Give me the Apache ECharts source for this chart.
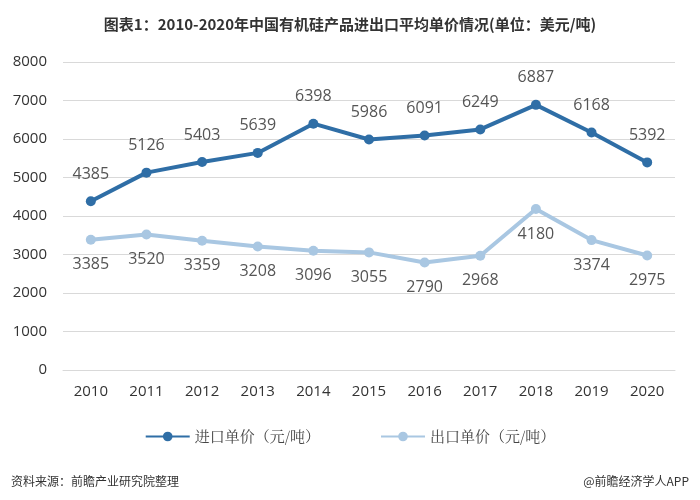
<!DOCTYPE html>
<html><head><meta charset="utf-8">
<script src="https://cdn.jsdelivr.net/npm/echarts@6/dist/echarts.min.js"></script>
<style>html,body{margin:0;padding:0;background:#fff}#c{width:700px;height:500px}</style>
</head><body><div id="c"></div>
<script>
const years = ['2010','2011','2012','2013','2014','2015','2016','2017','2018','2019','2020'];
const importPrice = [4385,5126,5403,5639,6398,5986,6091,6249,6887,6168,5392];
const exportPrice = [3385,3520,3359,3208,3096,3055,2790,2968,4180,3374,2975];
const yTicks = [0,1000,2000,3000,4000,5000,6000,7000,8000];
const font = '"Microsoft YaHei","Noto Sans CJK SC",sans-serif';
const chart = echarts.init(document.getElementById('c'));
chart.setOption({
  animation:false,
  title:[{text:'图表1：2010-2020年中国有机硅产品进出口平均单价情况(单位：美元/吨)',left:'center',top:12,
    textStyle:{fontSize:15,fontWeight:'bold',color:'#333',fontFamily:font}},
    {text:'资料来源：前瞻产业研究院整理',left:6,top:470,textStyle:{fontSize:12,fontWeight:'normal',color:'#333',fontFamily:font}},
    {text:'@前瞻经济学人APP',right:6,top:470,textStyle:{fontSize:12,fontWeight:'normal',color:'#333',fontFamily:font}}],
  legend:{top:424,left:'center',itemGap:60,itemWidth:44,itemHeight:12,
    textStyle:{fontSize:15,color:'#444',fontFamily:'"Noto Serif CJK SC","Noto Sans CJK SC",serif'},
    data:['进口单价（元/吨）','出口单价（元/吨）']},
  grid:{left:63,right:25,top:62,bottom:130},
  xAxis:{type:'category',data:years,boundaryGap:true,
    axisLine:{show:true,lineStyle:{color:'#d9d9d9'}},axisTick:{show:false},
    axisLabel:{fontSize:15,color:'#333',margin:14,fontFamily:'"Open Sans",sans-serif'}},
  yAxis:{type:'value',min:yTicks[0],max:yTicks[yTicks.length-1],interval:1000,
    axisLine:{show:false},axisTick:{show:false},
    splitLine:{lineStyle:{color:'#d9d9d9',width:1}},
    axisLabel:{fontSize:15,color:'#333',margin:16,fontFamily:'"Open Sans",sans-serif',formatter:v=>String(v)}},
  series:[
    {name:'进口单价（元/吨）',type:'line',data:importPrice,symbol:'circle',symbolSize:10,
      lineStyle:{width:4,color:'#2f6ea6'},itemStyle:{color:'#2f6ea6'},
      label:{show:true,position:'top',distance:14,fontSize:16,color:'#555',fontFamily:'"Open Sans",sans-serif'}},
    {name:'出口单价（元/吨）',type:'line',data:exportPrice,symbol:'circle',symbolSize:10,
      lineStyle:{width:4,color:'#a9c7e2'},itemStyle:{color:'#a9c7e2'},
      label:{show:true,position:'bottom',distance:12,fontSize:16,color:'#555',fontFamily:'"Open Sans",sans-serif'}}
  ]
});
</script></body></html>
